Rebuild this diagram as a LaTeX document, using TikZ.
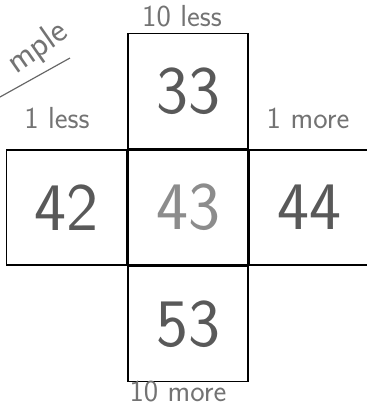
\documentclass[tikz,border=0pt]{standalone}
\usepackage{tikz}
\usetikzlibrary{positioning}

\tikzset{
  cell/.style={draw, line width=1.1pt, minimum width=3.6cm, minimum height=3.45cm,
    inner sep=0pt, font=\sffamily\fontsize{58}{58}\selectfont, text=black!65},
  hint/.style={font=\sffamily\fontsize{26}{26}\selectfont, text=black!55, inner sep=0pt}
}

\begin{document}
\begin{tikzpicture}[x=0.03cm,y=-0.03cm]
\useasboundingbox (0,0) rectangle (367,408);

% the number cross
\node[cell] (mid) at (188,207.5) {\textcolor{black!45}{43}};
\node[cell, above=0pt of mid] (up) {33};
\node[cell, below=0pt of mid] (down) {53};
\node[cell, left=0pt of mid] (lft) {42};
\node[cell, right=0pt of mid] (rgt) {44};

% labels round it
\node[hint] (tenless) at (182,16) {10 less};
\node[hint] (oneless) at (57,118) {1 less};
\node[hint] (onemore) at (308,118) {1 more};
\node[hint] (tenmore) at (178,392) {10 more};

% corner note
\node[hint, rotate=35, font=\sffamily\fontsize{30}{30}\selectfont] (ex) at (38,48) {mple};
\coordinate (ulA) at (0,97);
\coordinate (ulB) at (70,58);
\draw[black!60, line width=1pt] (ulA) -- (ulB);
\end{tikzpicture}
\end{document}
